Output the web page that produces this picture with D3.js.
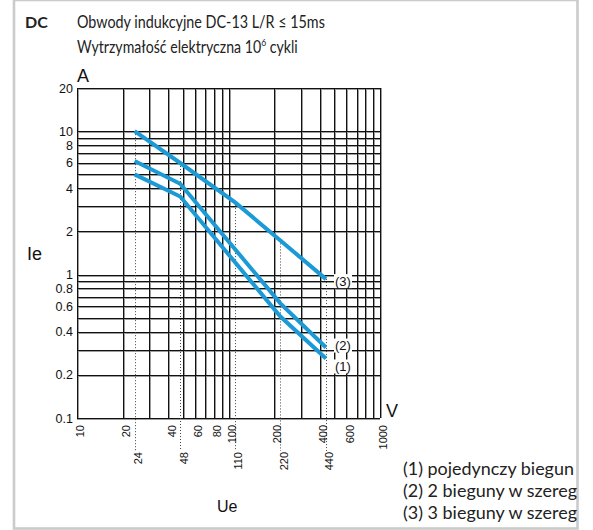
<!DOCTYPE html>
<html>
<head>
<meta charset="utf-8">
<script src="https://cdn.jsdelivr.net/npm/d3@7"></script>
<style>
    body { margin: 0; background: #fff; }
    #chart { width: 593px; height: 530px; }
    text { font-family: "Liberation Sans", Arial, sans-serif; fill: #111; }
    .ge { font-family: Lato, "Noto Sans", sans-serif; fill: #222; }
</style>
</head>
<body>
<div id="chart"></div>
<script>
// axis labels
const voltageLabels = [10, 20, 40, 60, 80, 100, 200, 400, 600, 1000];
const ratedVoltages = [24, 48, 110, 220, 440];
const currentLabels = [0.1, 0.2, 0.4, 0.6, 0.8, 1, 2, 4, 6, 8, 10, 20];

// curves as [voltage V, current A]
const singlePole = [[24, 5.0], [48, 3.5], [220, 0.51], [440, 0.26]];
const twoPoles = [[24, 6.2], [48, 4.3], [220, 0.63], [440, 0.31]];
const threePoles = [[24, 10], [48, 6], [110, 3.2], [220, 1.73], [440, 0.93]];

const curveNames = ["(1)", "(2)", "(3)"];
const legendLabels = ["(1) pojedynczy biegun", "(2) 2 bieguny w szereg", "(3) 3 bieguny w szereg"];

class BreakingChart {

    constructor(parentElement) {
        const vis = this;
        vis.parentElement = parentElement;
        vis.curves = [singlePole, twoPoles, threePoles];
        vis.initVis();
    }

    initVis() {
        const vis = this;

        vis.margin = {top: 88, right: 213, bottom: 112, left: 77};
        vis.width = 593 - vis.margin.left - vis.margin.right;
        vis.height = 530 - vis.margin.top - vis.margin.bottom;

        vis.root = d3.select("#" + vis.parentElement).append("svg")
            .attr("width", 593)
            .attr("height", 530);

        // light frame round the whole card
        vis.root.append("rect")
            .attr("x", 14).attr("y", 0)
            .attr("width", 563.5).attr("height", 528.5)
            .attr("fill", "none")
            .attr("stroke", "#cbcbcb")
            .attr("stroke-width", 2.6);

        vis.root.append("text").attr("class", "ge")
            .attr("x", 25).attr("y", 28)
            .attr("font-size", 16).attr("font-weight", "bold")
            .text("DC");
        const line1 = vis.root.append("text").attr("class", "ge")
            .attr("font-size", 16.5)
            .text("Obwody indukcyjne DC-13 L/R ≤ 15ms");
        vis.fitText(line1, 77, 28, 248);

        const line2 = vis.root.append("text").attr("class", "ge")
            .attr("font-size", 16.5);
        line2.append("tspan").text("Wytrzymałość elektryczna 10");
        line2.append("tspan").attr("font-size", 10).attr("dy", -7).text("6");
        line2.append("tspan").attr("dy", 7).text(" cykli");
        vis.fitText(line2, 77, 53, 221);

        vis.svg = vis.root.append("g")
            .attr("transform", "translate(" + vis.margin.left + "," + vis.margin.top + ")");

        vis.x = d3.scaleLog()
            .domain([10, 1000])
            .range([0, vis.width]);

        vis.y = d3.scaleLog()
            .domain([0.1, 20])
            .range([vis.height, 0]);

        // grid: a black line with a grey shadow next to it
        const px = v => Math.round(vis.x(v)) + 0.5;
        const py = v => Math.round(vis.y(v)) + 0.5;

        const grid = vis.svg.append("g").attr("class", "grid");
        vis.x.ticks().forEach(v => {
            grid.append("line")
                .attr("x1", px(v) + 1).attr("x2", px(v) + 1)
                .attr("y1", 0).attr("y2", vis.height)
                .attr("stroke", "#9d9d9d");
        });
        vis.y.ticks().forEach(v => {
            grid.append("line")
                .attr("x1", 0).attr("x2", vis.width)
                .attr("y1", py(v) + 1).attr("y2", py(v) + 1)
                .attr("stroke", "#9d9d9d");
        });
        vis.x.ticks().forEach(v => {
            grid.append("line")
                .attr("x1", px(v)).attr("x2", px(v))
                .attr("y1", 0).attr("y2", vis.height)
                .attr("stroke", "#111");
        });
        vis.y.ticks().forEach(v => {
            grid.append("line")
                .attr("x1", 0).attr("x2", vis.width)
                .attr("y1", py(v)).attr("y2", py(v))
                .attr("stroke", "#111");
        });

        // dotted guides at the rated voltages
        vis.svg.selectAll(".guide")
            .data(ratedVoltages)
            .enter().append("line")
            .attr("class", "guide")
            .attr("x1", d => px(d)).attr("x2", d => px(d))
            .attr("y1", d => vis.y(threePoles.find(p => p[0] === d)[1]))
            .attr("y2", vis.height + 33)
            .attr("stroke", "#444")
            .attr("stroke-dasharray", "1,2");

        // axes, text only
        vis.yAxis = d3.axisLeft(vis.y)
            .tickValues(currentLabels)
            .tickFormat(d => d)
            .tickSize(0)
            .tickPadding(4);
        const yg = vis.svg.append("g").call(vis.yAxis);
        yg.select(".domain").remove();
        yg.selectAll("text")
            .attr("font-family", "'Liberation Sans', Arial, sans-serif")
            .attr("font-size", 12.5)
            .attr("fill", "#111");

        vis.xAxis = d3.axisBottom(vis.x)
            .tickValues(voltageLabels)
            .tickFormat(d => d)
            .tickSize(0);
        vis.addRotatedAxis(vis.xAxis, -7);

        vis.xAxis2 = d3.axisBottom(vis.x)
            .tickValues(ratedVoltages)
            .tickFormat(d => d)
            .tickSize(0);
        vis.addRotatedAxis(vis.xAxis2, -34);

        vis.svg.append("text").attr("x", 0).attr("y", -6).attr("font-size", 18).text("A");
        vis.svg.append("text").attr("x", vis.width + 6).attr("y", vis.height - 1).attr("font-size", 18).text("V");
        vis.root.append("text").attr("x", 27).attr("y", 260).attr("font-size", 18).text("Ie");
        vis.root.append("text").attr("x", 217).attr("y", 512).attr("font-size", 16).text("Ue");

        // curve labels on white patches
        const offsets = [8, -2, 2];
        const tags = vis.svg.selectAll(".tag")
            .data(vis.curves)
            .enter().append("g")
            .attr("class", "tag")
            .attr("transform", (d, i) => {
                const last = d[d.length - 1];
                return "translate(" + (vis.x(last[0]) + 9) + "," + (vis.y(last[1]) + offsets[i]) + ")";
            });
        tags.append("rect")
            .attr("x", -1).attr("y", -7)
            .attr("width", 18).attr("height", 14)
            .attr("fill", "#fff");
        tags.append("text")
            .attr("dy", "0.35em")
            .attr("font-size", 13)
            .text((d, i) => curveNames[i]);

        vis.line = d3.line()
            .x(d => vis.x(d[0]))
            .y(d => vis.y(d[1]));

        vis.svg.selectAll(".curve")
            .data(vis.curves)
            .enter().append("path")
            .attr("class", "curve")
            .attr("d", vis.line)
            .attr("fill", "none")
            .attr("stroke", "#1b9ad6")
            .attr("stroke-width", 4);

        const legendWidths = [171, 174, 174];
        legendLabels.forEach((label, i) => {
            const t = vis.root.append("text")
                .attr("class", "ge legend")
                .attr("font-size", 17.5)
                .text(label);
            vis.fitText(t, 403, 475 + i * 22, legendWidths[i]);
        });
    }

    // squeeze a text to the width it has in the print
    fitText(sel, x, y, width) {
        const k = width / sel.node().getComputedTextLength();
        sel.attr("transform", "translate(" + x + "," + y + ") scale(" + k + ",1)");
    }

    addRotatedAxis(axis, offset) {
        const vis = this;
        const g = vis.svg.append("g")
            .attr("transform", "translate(0," + vis.height + ")")
            .call(axis);
        g.select(".domain").remove();
        g.selectAll("text")
            .attr("font-family", "'Liberation Sans', Arial, sans-serif")
            .attr("font-size", 11)
            .attr("fill", "#111")
            .attr("transform", "rotate(-90)")
            .attr("text-anchor", "end")
            .attr("x", offset)
            .attr("y", 3)
            .attr("dy", "0.35em");
    }
}

new BreakingChart("chart");
</script>
</body>
</html>
